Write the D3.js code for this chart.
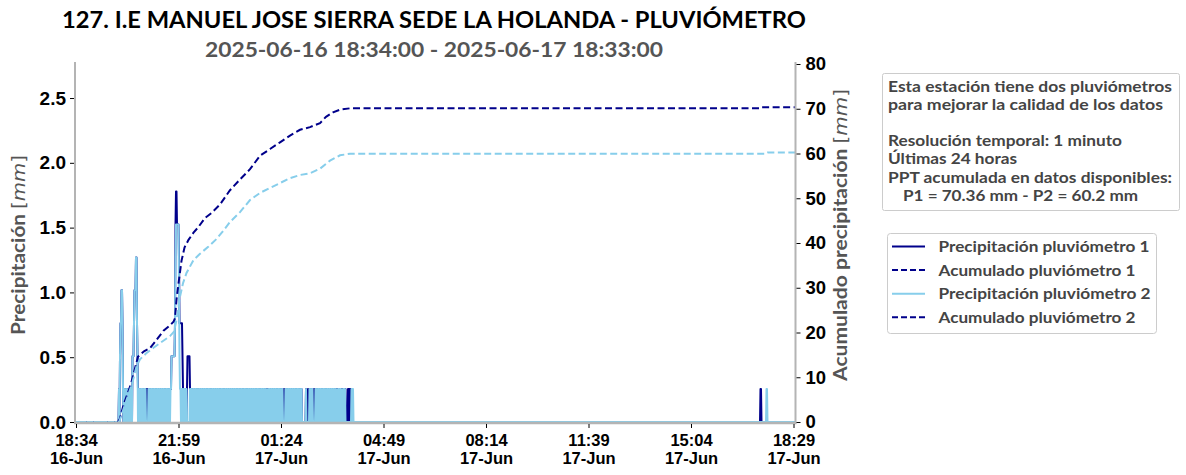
<!DOCTYPE html>
<html><head><meta charset="utf-8">
<script src="https://cdn.jsdelivr.net/npm/d3@7"></script>
<style>
body{margin:0;background:#fff;}
svg{display:block;}
</style></head><body>
<svg id="c" width="1186" height="475"></svg>
<script>
// ---------------- DATA ----------------
const title = "127. I.E MANUEL JOSE SIERRA SEDE LA HOLANDA - PLUVIÓMETRO";
const subtitle = "2025-06-16 18:34:00 - 2025-06-17 18:33:00";
const startTime = "2025-06-16 18:34";
const endTime = "2025-06-17 18:33";
const tipSize = 0.254;            // mm per tip
const rainStartMinute = 84;       // minutes after start, first line of the per-minute tip strings
// tips per minute, 40 minutes per line
const p1Rain = [
  "0010233443 1010100100 0100010102 2234445532",
  "1101101011 0110101010 1110101101 0110101011",
  "1011010110 1101011011 0110111222 2222367766",
  "6653333332 1011011012 2222101101 1011011010",
  "1101101011 0110101101 1011011010 1101101101",
  "1011010110 1101101011 0110101101 1011011010",
  "1101101011 0101101101 1011010110 1101101011",
  "1101011011 1011010010 1101101011 0110101101",
  "1011011010 0010011011 0110101101 1011010110",
  "1101101100 0000001000 1001011010 0010011011",
  "0110110101 1011010110 1101101011 0101101010",
  "1011010010 1101010000 1101110000 0000000000"
];
const p2Rain = [
  "0010233443 1010100100 0100010102 2234445532",
  "0110101101 1011010000 0110101101 0101101011",
  "0101101101 0110101101 1011011222 2222356666",
  "6642110110 1011010100 0000110110 1101011010",
  "1011010110 1101011010 1101101011 0101101101",
  "0110101101 1010110101 1011010110 1101011010",
  "1101010110 1011011010 1101011011 0101101011",
  "0110101101 0110101000 1011010110 1101011010",
  "1101101011 0000011010 1101011011 0101101011",
  "0110101100 0000001000 0001101011 0000011010",
  "1101011010 1101101011 0101101101 0110101000",
  "1101011000 1101100000 0000000110 1000000000"
];
const p1Late = { start: 1368, tips: "0110" };
const p2Late = { start: 1380, tips: "0110" };
// accumulated rain [minute after start, mm]
const p1Cum = [[0,0],[84,0],[88,0.8],[95,3.8],[110,8.5],[124,14.6],[136,15.8],[148,16.5],[160,18.2],[175,20.4],[188,21.6],[195,22.4],[198,23.2],[201,27.3],[205,31],[211,36],[217,39],[225,40.7],[235,42.3],[245,43.6],[258,45.6],[272,46.8],[288,48.6],[308,51.8],[328,54.2],[348,56.5],[368,59.5],[388,61],[408,62.5],[428,64],[448,65.3],[468,65.9],[488,66.8],[500,68.2],[514,69.2],[528,69.8],[548,70.1],[1368,70.1],[1371,70.36],[1439,70.36]];
const p2Cum = [[0,0],[86,0],[90,1.2],[101,4.9],[112,8.5],[121,12.4],[128,14],[140,15.3],[155,16.6],[170,17.8],[188,19.2],[196,20.2],[201,22.8],[208,28],[214,31],[221,33.3],[235,36.2],[248,37.6],[265,39.2],[281,40.9],[295,42.8],[308,44.7],[328,46.9],[348,49.6],[368,51.2],[388,52.3],[408,53.4],[428,54.5],[448,55.2],[468,55.6],[488,56.6],[508,58.4],[528,59.6],[548,59.95],[1380,59.95],[1383,60.2],[1439,60.2]];
const xTickTimes = ["2025-06-16 18:34","2025-06-16 21:59","2025-06-17 01:24","2025-06-17 04:49","2025-06-17 08:14","2025-06-17 11:39","2025-06-17 15:04","2025-06-17 18:29"];
const leftTicks = [0, 0.5, 1.0, 1.5, 2.0, 2.5];
const rightTicks = [0, 10, 20, 30, 40, 50, 60, 70, 80];
const leftMax = 2.778;
const rightMax = 80.45;
const infoLines = [
  "Esta estación tiene dos pluviómetros",
  "para mejorar la calidad de los datos",
  "",
  "Resolución temporal: 1 minuto",
  "Últimas 24 horas",
  "PPT acumulada en datos disponibles:",
  "   P1 = 70.36 mm - P2 = 60.2 mm"
];
const legendLabels = ["Precipitación pluviómetro 1","Acumulado pluviómetro 1","Precipitación pluviómetro 2","Acumulado pluviómetro 2"];

// layout (text widths measured on the reference)
const infoWidths = [284, 275, 0, 234, 129, 284, 235];
const legendWidths = [211, 197, 212, 197];

// ---------------- BUILD SERIES ----------------
const parse = d3.timeParse("%Y-%m-%d %H:%M");
const t0 = parse(startTime), t1 = parse(endTime);
const nMin = Math.round((t1 - t0) / 60000) + 1;
function buildRain(lines, late) {
  const tips = new Array(nMin).fill(0);
  const s = lines.join("").replace(/\s/g, "");
  for (let i = 0; i < s.length; i++) tips[rainStartMinute + i] = +s[i];
  for (let i = 0; i < late.tips.length; i++) tips[late.start + i] = +late.tips[i];
  return tips.map((k, m) => ({ t: new Date(+t0 + m * 60000), v: k * tipSize }));
}
const p1 = buildRain(p1Rain, p1Late);
const p2 = buildRain(p2Rain, p2Late);
const c1 = p1Cum.map(([m, v]) => ({ t: new Date(+t0 + m * 60000), v }));
const c2 = p2Cum.map(([m, v]) => ({ t: new Date(+t0 + m * 60000), v }));

// ---------------- DRAW ----------------
const DARK = "#00008B", LIGHT = "#87CEEB", SPINE = "#b4b4b4";
const L = 76, R = 795.5, T = 62, B = 422;
const svg = d3.select("#c");
const x = d3.scaleTime().domain([t0, t1]).range([L, R]);
const yL = d3.scaleLinear().domain([0, leftMax]).range([B, T]);
const yR = d3.scaleLinear().domain([0, rightMax]).range([B, T]);

svg.append("defs").append("clipPath").attr("id", "plot")
  .append("rect").attr("x", L - 1).attr("y", T).attr("width", R - L + 1).attr("height", B - T);

const g = svg.append("g").attr("clip-path", "url(#plot)");
const lineL = d3.line().x(d => x(d.t)).y(d => yL(d.v));
const lineR = d3.line().x(d => x(d.t)).y(d => yR(d.v));
g.append("path").datum(p1).attr("d", lineL).attr("fill", "none").attr("stroke", DARK).attr("stroke-width", 2).attr("stroke-linejoin", "round");
g.append("path").datum(p2).attr("d", lineL).attr("fill", "none").attr("stroke", LIGHT).attr("stroke-width", 2).attr("stroke-linejoin", "round");
g.append("path").datum(c1).attr("d", lineR).attr("fill", "none").attr("stroke", DARK).attr("stroke-width", 2).attr("stroke-dasharray", "7,3.5");
g.append("path").datum(c2).attr("d", lineR).attr("fill", "none").attr("stroke", LIGHT).attr("stroke-width", 2).attr("stroke-dasharray", "7,3.5");

// spines
svg.append("line").attr("x1", L - 1).attr("x2", L - 1).attr("y1", T).attr("y2", B + 1.5).attr("stroke", SPINE).attr("stroke-width", 2);
svg.append("line").attr("x1", R).attr("x2", R).attr("y1", T).attr("y2", B + 1.5).attr("stroke", SPINE).attr("stroke-width", 2);
svg.append("line").attr("x1", L - 2).attr("x2", R + 1).attr("y1", B + 1).attr("y2", B + 1).attr("stroke", SPINE).attr("stroke-width", 2.5);

const tickFont = "'Liberation Sans', Arial, sans-serif";
function styleAxis(sel, size) {
  sel.select(".domain").remove();
  sel.selectAll(".tick line").attr("stroke", "#000").attr("stroke-width", 1);
  sel.selectAll(".tick text").attr("fill", "#000").style("font-family", tickFont).style("font-weight", "bold").style("font-size", size + "px");
}
const axL = svg.append("g").attr("transform", `translate(${L - 2},0)`)
  .call(d3.axisLeft(yL).tickValues(leftTicks).tickFormat(d3.format(".1f")).tickSize(4).tickPadding(4));
styleAxis(axL, 19);
const axR = svg.append("g").attr("transform", `translate(${R + 1},0)`)
  .call(d3.axisRight(yR).tickValues(rightTicks).tickFormat(d3.format("d")).tickSize(4).tickPadding(5));
styleAxis(axR, 18.5);
const fmtT = d3.timeFormat("%H:%M"), fmtD = d3.timeFormat("%d-%b");
const axB = svg.append("g").attr("transform", `translate(0,${B + 2})`)
  .call(d3.axisBottom(x).tickValues(xTickTimes.map(parse)).tickFormat(fmtT).tickSize(4).tickPadding(6));
styleAxis(axB, 16.5);
axB.selectAll(".tick text").each(function(d) {
  const t = d3.select(this); t.text(null);
  t.append("tspan").attr("x", 0).attr("dy", "0.71em").text(fmtT(d));
  t.append("tspan").attr("x", 0).attr("dy", "1.08em").text(fmtD(d));
});

// titles
const titleFont = "Lato, 'Open Sans', sans-serif";
svg.append("text").attr("x", 434).attr("y", 28).attr("text-anchor", "middle")
  .attr("textLength", 744).attr("lengthAdjust", "spacingAndGlyphs")
  .style("font-family", titleFont).style("font-weight", "bold").style("font-size", "23px").attr("fill", "#000").text(title);
svg.append("text").attr("x", 434).attr("y", 57).attr("text-anchor", "middle")
  .attr("textLength", 458).attr("lengthAdjust", "spacingAndGlyphs")
  .style("font-family", titleFont).style("font-weight", "bold").style("font-size", "21px").attr("fill", "#555").text(subtitle);

// axis labels
function axisLabel(xc, yc, main, len) {
  const t = svg.append("text").attr("transform", `translate(${xc},${yc}) rotate(-90)`).attr("text-anchor", "middle")
    .attr("font-family", titleFont).attr("font-weight", "bold").attr("font-size", 19).attr("fill", "#555");
  t.append("tspan").attr("font-weight", "bold").text(main + " ");
  t.append("tspan").attr("font-family", "'DejaVu Sans', sans-serif").attr("font-weight", "normal").attr("font-size", 18).text("[");
  t.append("tspan").attr("font-family", "'DejaVu Sans', sans-serif").attr("font-weight", "normal").attr("font-style", "italic").attr("font-size", 18).text("mm");
  t.append("tspan").attr("font-family", "'DejaVu Sans', sans-serif").attr("font-weight", "normal").attr("font-size", 18).text("]");
  const w = t.node().getComputedTextLength();
  const s = len / w;
  t.attr("transform", `translate(${xc},${yc}) rotate(-90) scale(${s},1)`);
}
axisLabel(25, 245, "Precipitación", 180);
axisLabel(847, 235, "Acumulado precipitación", 292);

// info box
svg.append("rect").attr("x", 882.5).attr("y", 73.5).attr("width", 297).attr("height", 137)
  .attr("fill", "#fff").attr("stroke", "#cccccc").attr("stroke-width", 1).attr("rx", 2);
svg.append("g").selectAll("text").data(infoLines.map((s, i) => ({ s, i })).filter(d => d.s.trim().length)).join("text")
  .attr("x", d => 888 + (d.s.length - d.s.trimStart().length) * 5)
  .attr("y", d => 91.5 + d.i * 18.2)
  .attr("textLength", d => infoWidths[d.i]).attr("lengthAdjust", "spacingAndGlyphs")
  .attr("font-family", titleFont).attr("font-weight", "bold").attr("font-size", 15.5).attr("fill", "#444")
  .text(d => d.s.trim());

// legend
svg.append("rect").attr("x", 887.5).attr("y", 233.5).attr("width", 269).attr("height", 100)
  .attr("fill", "#fff").attr("stroke", "#cccccc").attr("stroke-width", 1).attr("rx", 3);
const legStyle = [
  { c: DARK, dash: null }, { c: DARK, dash: "6,3" }, { c: LIGHT, dash: null }, { c: DARK, dash: "6,3" }
];
const lg = svg.append("g").selectAll("g").data(legendLabels).join("g")
  .attr("transform", (d, i) => `translate(0,${246.5 + i * 23.6})`);
lg.append("line").attr("x1", 892).attr("x2", 925).attr("y1", 0).attr("y2", 0)
  .attr("stroke", (d, i) => legStyle[i].c).attr("stroke-width", 2)
  .attr("stroke-dasharray", (d, i) => legStyle[i].dash);
lg.append("text").attr("x", 938.5).attr("y", 5.5).text(d => d)
  .attr("textLength", (d, i) => legendWidths[i]).attr("lengthAdjust", "spacingAndGlyphs")
  .attr("font-family", titleFont).attr("font-weight", "bold").attr("font-size", 15.5).attr("fill", "#444");
</script>
</body></html>
